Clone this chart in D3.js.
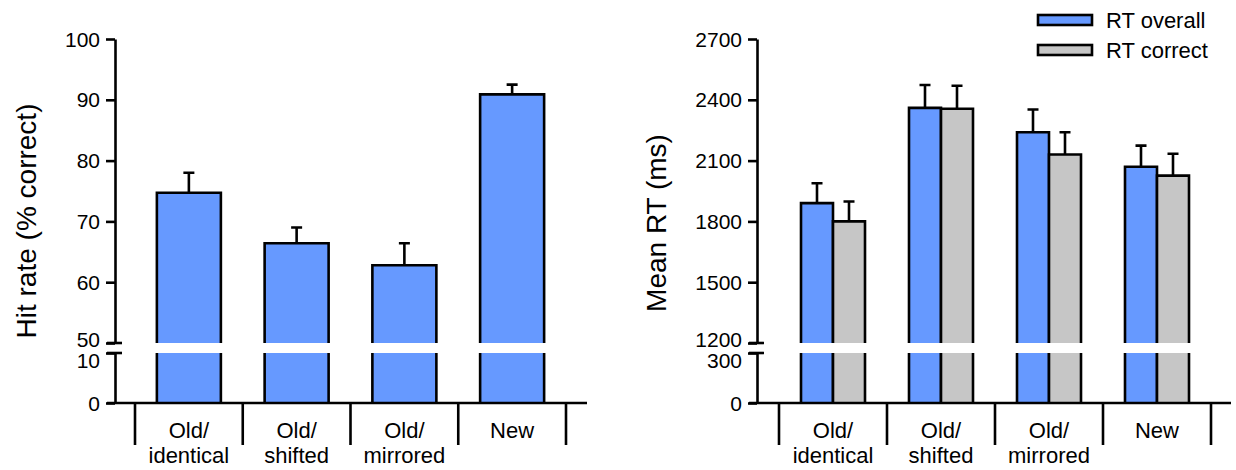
<!DOCTYPE html>
<html>
<head>
<meta charset="utf-8">
<script src="https://cdn.jsdelivr.net/npm/d3@7"></script>
<style>
  body { margin: 0; background: #fff; }
  svg { display: block; font-family: "Liberation Sans", Arial, sans-serif; }
</style>
</head>
<body>
<svg id="chart" width="1236" height="470"></svg>
<script>
// categories and values
const catLines = [["Old/", "identical"], ["Old/", "shifted"], ["Old/", "mirrored"], ["New"]];
const categories = catLines.map(d => d.join(" "));

const hitRate = [74.7, 66.4, 62.8, 90.9];
const hitRateSE = [3.3, 2.6, 3.6, 1.6];

const rtOverall = [1890, 2360, 2240, 2070];
const rtOverallSE = [98, 113, 112, 104];
const rtCorrect = [1800, 2356, 2130, 2026];
const rtCorrectSE = [98, 113, 110, 108];

const hitTicksUpper = [50, 60, 70, 80, 90, 100];
const hitTicksLower = [0, 10];
const rtTicksUpper = [1200, 1500, 1800, 2100, 2400, 2700];
const rtTicksLower = [0, 300];

const seriesNames = ["RT overall", "RT correct"];
const colors = ["#6699ff", "#c6c6c6"];

const svg = d3.select('#chart');
const lw = 2.6;
const yTop = 39, yBreakHi = 343, yBreakLo = 353, yBase = 403;

function panel(opt) {
  const g = svg.append('g');
  const yUp = d3.scaleLinear().domain(d3.extent(opt.upperTicks)).range([yBreakHi, yTop]);
  const yLo = d3.scaleLinear().domain(d3.extent(opt.lowerTicks)).range([yBase, yBreakLo]);
  const x = d3.scaleBand().domain(categories).range(opt.xRange);
  const nS = opt.series.length;
  const bw = opt.barWidth;

  // bars
  opt.series.forEach((vals, si) => {
    const bx = (d, i) => x(categories[i]) + x.bandwidth() / 2 - (nS * bw) / 2 + si * bw;
    const sg = g.append('g');
    // lower segment
    sg.selectAll('rect.lo').data(vals).join('rect')
      .attr('x', bx).attr('y', yLo.range()[1]).attr('width', bw)
      .attr('height', yLo.range()[0] - yLo.range()[1])
      .attr('fill', colors[si]);
    sg.selectAll('path.lo').data(vals).join('path')
      .attr('d', (d, i) => `M${bx(d, i)},${yBreakLo}V${yBase}M${bx(d, i) + bw},${yBreakLo}V${yBase}`)
      .attr('stroke', '#000').attr('stroke-width', lw).attr('fill', 'none');
    // upper segment
    sg.selectAll('path.up').data(vals).join('path')
      .attr('d', (d, i) => `M${bx(d, i)},${yBreakHi}V${yUp(d)}H${bx(d, i) + bw}V${yBreakHi}`)
      .attr('fill', colors[si]).attr('stroke', '#000').attr('stroke-width', lw);
    // error bars
    const se = opt.errors[si];
    sg.selectAll('path.err').data(vals).join('path')
      .attr('d', (d, i) => {
        const cx = bx(d, i) + bw / 2, y1 = yUp(d), y2 = yUp(d + se[i]);
        return `M${cx},${y1}V${y2}M${cx - 5.5},${y2}H${cx + 5.5}`;
      })
      .attr('stroke', '#000').attr('stroke-width', lw).attr('fill', 'none');
  });

  // y axes (upper and lower segments)
  const ax = opt.axisX;
  const styleAxis = (sel, shiftFn) => {
    sel.attr('font-size', null).attr('font-family', null);
    sel.selectAll('path.domain').attr('stroke-width', lw);
    sel.selectAll('.tick line').attr('stroke-width', lw);
    sel.selectAll('.tick text').style('font-size', '21px').attr('fill', '#000')
      .attr('dy', d => (0.34 + shiftFn(d) / 21) + 'em');
  };
  g.append('g').attr('transform', `translate(${ax},0)`)
    .call(d3.axisLeft(yUp).tickValues(opt.upperTicks).tickFormat(d3.format('d'))
      .tickSize(9).tickSizeOuter(0).tickPadding(6))
    .call(styleAxis, d => d === opt.upperTicks[0] ? -4 : 0);
  g.append('g').attr('transform', `translate(${ax},0)`)
    .call(d3.axisLeft(yLo).tickValues(opt.lowerTicks).tickFormat(d3.format('d'))
      .tickSize(9).tickSizeOuter(0).tickPadding(6))
    .call(styleAxis, d => d === opt.lowerTicks[1] ? 7 : 0);
  // break marks
  g.selectAll('line.brk').data([yBreakHi, yBreakLo]).join('line')
    .attr('x1', ax - 8).attr('x2', ax + 7).attr('y1', d => d).attr('y2', d => d)
    .attr('stroke', '#000').attr('stroke-width', lw);

  // x axis line + category separators
  g.append('line').attr('x1', ax - 8).attr('x2', opt.xEnd).attr('y1', yBase).attr('y2', yBase)
    .attr('stroke', '#000').attr('stroke-width', lw);
  const seps = categories.map(c => x(c)).concat([x.range()[1]]);
  g.selectAll('line.sep').data(seps).join('line')
    .attr('x1', d => d).attr('x2', d => d).attr('y1', yBase).attr('y2', 445)
    .attr('stroke', '#000').attr('stroke-width', lw);

  // category labels
  const lab = g.selectAll('text.cat').data(catLines).join('text')
    .attr('x', (d, i) => x(categories[i]) + x.bandwidth() / 2)
    .attr('text-anchor', 'middle').attr('font-size', 22).attr('fill', '#000');
  lab.selectAll('tspan').data(d => d).join('tspan')
    .attr('x', function () { return this.parentNode.getAttribute('x'); })
    .attr('y', (d, i) => 438 + i * 25)
    .text(d => d);

  // y title
  g.append('text')
    .attr('transform', `translate(${opt.titleX},${opt.titleY}) rotate(-90)`)
    .attr('text-anchor', 'middle').attr('font-size', 28).attr('fill', '#000')
    .text(opt.title);
}

panel({
  series: [hitRate], errors: [hitRateSE], barWidth: 64,
  upperTicks: hitTicksUpper, lowerTicks: hitTicksLower,
  xRange: [135, 566], xEnd: 587, axisX: 115,
  title: 'Hit rate (% correct)', titleX: 36, titleY: 221
});

panel({
  series: [rtOverall, rtCorrect], errors: [rtOverallSE, rtCorrectSE], barWidth: 32,
  upperTicks: rtTicksUpper, lowerTicks: rtTicksLower,
  xRange: [779, 1211], xEnd: 1231, axisX: 757,
  title: 'Mean RT (ms)', titleX: 666, titleY: 223
});

// legend
const leg = svg.append('g').selectAll('g').data(seriesNames).join('g')
  .attr('transform', (d, i) => `translate(1038,${15 + i * 30})`);
leg.append('rect').attr('width', 54).attr('height', 10)
  .attr('fill', (d, i) => colors[i]).attr('stroke', '#000').attr('stroke-width', lw);
leg.append('text').attr('x', 68).attr('y', 13).attr('font-size', 22).attr('fill', '#000')
  .text(d => d);
</script>
</body>
</html>
